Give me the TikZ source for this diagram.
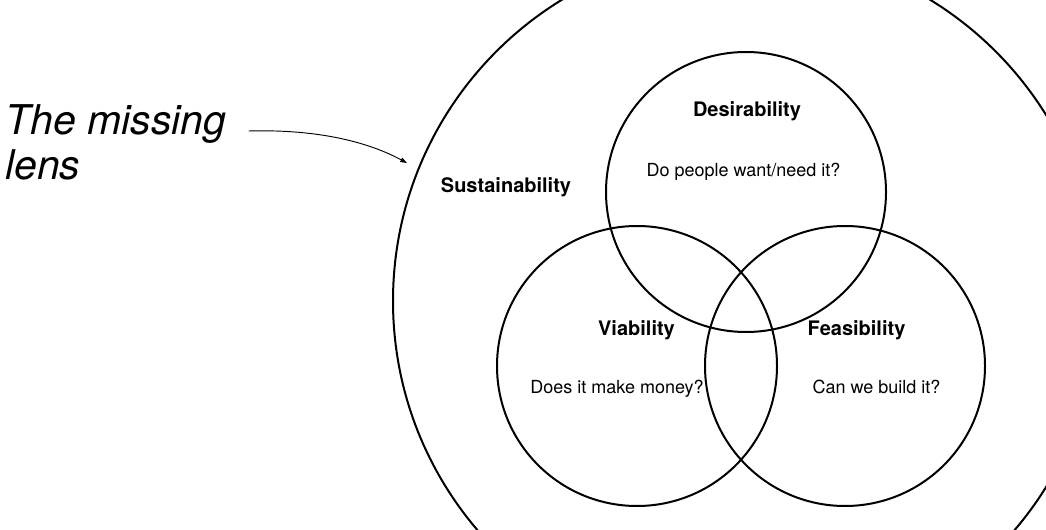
\documentclass[tikz,border=0pt]{standalone}
\usepackage{fontspec}
\setmainfont{TeX Gyre Heros}
\usepackage{tikz}
\usetikzlibrary{calc,arrows.meta}

\begin{document}
\begin{tikzpicture}[x=0.75pt,y=0.75pt]
        \tikzstyle{ring}=[draw,circle,line width=1.5pt,inner sep=0pt]
        \tikzstyle{head}=[inner sep=0pt,anchor=base,font=\bfseries\fontsize{15}{18}\selectfont]
        \tikzstyle{ask}=[inner sep=0pt,anchor=base,font=\fontsize{13.5}{16}\selectfont]
        \tikzstyle{side}=[inner sep=0pt,anchor=base west,font=\itshape\fontsize{30.75}{34}\selectfont]
        \useasboundingbox (0,0) rectangle (1046,529);
        \clip (0,0) rectangle (1046,529);

        \node[ring,minimum size=529.5pt] (sus) at (746,228) {};
        \node[ring,minimum size=210pt] (des) at (746,337) {};
        \node[ring,minimum size=210pt] (via) at ($(des)+(-109,-174)$) {};
        \node[ring,minimum size=210pt] (fea) at ($(via)+(208,0)$) {};

        \node[head] (susl) at (506,336) {Sustainability};
        \node[head] (desl) at ($(des)+(1,75)$) {Desirability};
        \node[ask] (desq) at ($(des)+(-2.5,15)$) {Do people want/need it?};
        \node[head] (vial) at ($(via)+(-0.5,31)$) {Viability};
        \node[ask] (viaq) at ($(via)+(-20,-27)$) {Does it make money?};
        \node[head] (feal) at ($(fea)+(11.5,31)$) {Feasibility};
        \node[ask] (feaq) at ($(fea)+(31.5,-27)$) {Can we build it?};

        \node[side] (miss) at (5,394) {The missing};
        \node[side] (lens) at (5,349) {lens};
        \coordinate (aim) at (407,366);

        \draw[line width=0.7pt,-{Triangle[length=5pt,width=3.5pt]}] ([xshift=16.5pt,yshift=3pt]miss.base east) .. controls +(72,2) and +(-37,20) .. (aim);
    \end{tikzpicture}
\end{document}
